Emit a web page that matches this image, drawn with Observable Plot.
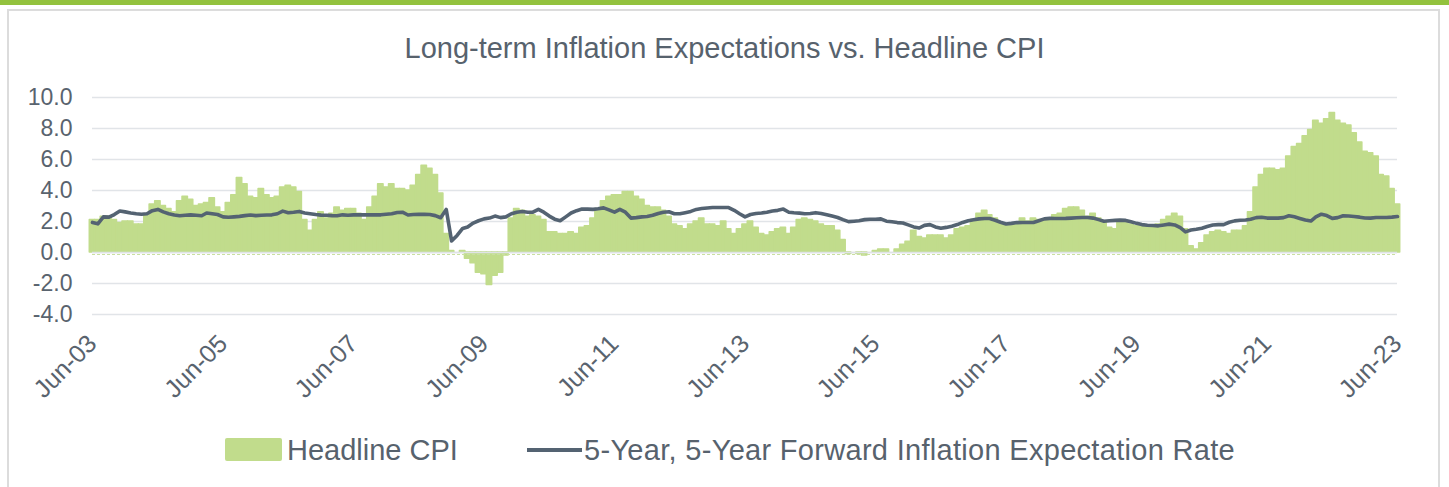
<!DOCTYPE html>
<html>
<head>
<meta charset="utf-8">
<script src="https://cdn.jsdelivr.net/npm/d3@7"></script>
<script src="https://cdn.jsdelivr.net/npm/@observablehq/plot@0.6"></script>
<style>
  html, body { margin: 0; padding: 0; background: #ffffff; }
  #wrap { position: relative; width: 1449px; height: 487px; overflow: hidden; font-family: "Liberation Sans", Arial, sans-serif; }
  #topbar { position: absolute; left: 0; top: 0; width: 1449px; height: 5px; background: #93c23e; }
  #card { position: absolute; left: 7px; top: 9px; width: 1433px; height: 520px; border: 2px solid #dcdcdc; border-bottom: none; box-sizing: border-box; }
  #title { position: absolute; left: 0; top: 34px; width: 1449px; text-align: center; font-size: 29px; line-height: 29px; color: #57626d; white-space: nowrap; }
  #chart { position: absolute; left: 0; top: 0; }
  .lg { position: absolute; font-size: 29px; line-height: 29px; color: #57626d; white-space: nowrap; }
  #sw1 { position: absolute; left: 225px; top: 438px; width: 57px; height: 23px; background: #c1dc8c; border-radius: 2px; }
  #sw2 { position: absolute; left: 527px; top: 448px; width: 55px; height: 4px; background: #546372; }
</style>
</head>
<body>
<div id="wrap">
  <div id="topbar"></div>
  <div id="card"></div>
  <div id="title">Long-term Inflation Expectations vs. Headline CPI</div>
  <div id="chart"></div>
  <div id="sw1"></div>
  <div class="lg" style="left:287px; top:436px;">Headline CPI</div>
  <div id="sw2"></div>
  <div class="lg" style="left:584px; top:436px; letter-spacing:0.3px;">5-Year, 5-Year Forward Inflation Expectation Rate</div>
</div>
<script>
// Monthly observations, Jun-2003 .. Jun-2023
const startMonth = "2003-06-01";

// Headline CPI, year-over-year %
const headlineCPI = [
  2.1, 2.1, 2.3, 2.3, 2.1, 1.9, 2.0,
  2.0, 1.8, 1.8, 2.4, 3.1, 3.3, 3.0, 2.8, 2.6, 3.3, 3.6, 3.4,
  3.0, 3.1, 3.2, 3.5, 2.9, 2.6, 3.2, 3.7, 4.8, 4.4, 3.6, 3.5,
  4.1, 3.7, 3.5, 3.6, 4.2, 4.3, 4.2, 3.9, 2.1, 1.4, 2.1, 2.6,
  2.2, 2.5, 2.9, 2.7, 2.8, 2.8, 2.5, 2.1, 2.9, 3.6, 4.4, 4.2,
  4.4, 4.1, 4.1, 4.0, 4.3, 5.0, 5.6, 5.4, 5.0, 3.8, 1.2, 0.1,
  0.0, 0.1, -0.4, -0.7, -1.3, -1.4, -2.1, -1.5, -1.3, -0.2, 2.2, 2.8,
  2.7, 2.3, 2.4, 2.3, 2.1, 1.3, 1.3, 1.2, 1.2, 1.3, 1.2, 1.6,
  1.7, 2.2, 2.8, 3.3, 3.6, 3.7, 3.7, 3.9, 3.9, 3.6, 3.4, 3.0,
  2.9, 2.9, 2.7, 2.3, 1.8, 1.7, 1.5, 1.8, 2.0, 2.2, 1.8, 1.8,
  1.7, 2.0, 1.5, 1.2, 1.5, 1.8, 2.0, 1.6, 1.2, 1.1, 1.3, 1.5,
  1.6, 1.2, 1.6, 2.1, 2.2, 2.1, 2.0, 1.8, 1.7, 1.7, 1.4, 0.8,
  -0.1, 0.0, -0.1, -0.2, 0.0, 0.1, 0.2, 0.2, 0.0, 0.2, 0.5, 0.7,
  1.4, 1.0, 0.9, 1.1, 1.1, 1.1, 0.9, 1.1, 1.5, 1.6, 1.7, 2.1,
  2.5, 2.7, 2.4, 2.2, 1.9, 1.7, 1.7, 1.9, 2.2, 2.0, 2.2, 2.1,
  2.1, 2.2, 2.4, 2.5, 2.8, 2.9, 2.9, 2.7, 2.3, 2.5, 2.2, 1.9,
  1.6, 1.5, 1.9, 2.0, 1.8, 1.7, 1.8, 1.7, 1.7, 1.8, 2.1, 2.3,
  2.5, 2.3, 1.5, 0.4, 0.2, 0.6, 1.1, 1.3, 1.4, 1.3, 1.2, 1.4,
  1.4, 1.7, 2.6, 4.2, 5.0, 5.4, 5.4, 5.3, 5.4, 6.2, 6.8, 7.0,
  7.5, 7.9, 8.5, 8.3, 8.6, 9.0, 8.5, 8.3, 8.2, 7.7, 7.1, 6.5,
  6.4, 6.2, 5.0, 4.9, 4.1, 3.1
];

// 5-Year, 5-Year Forward Inflation Expectation Rate, %
const forwardRate = [
  1.94, 1.85, 2.30, 2.28, 2.45, 2.68, 2.62,
  2.55, 2.50, 2.47, 2.50, 2.70, 2.78, 2.62, 2.50, 2.42, 2.37, 2.40, 2.43,
  2.40, 2.37, 2.55, 2.50, 2.45, 2.30, 2.27, 2.30, 2.33, 2.38, 2.42, 2.38,
  2.40, 2.42, 2.43, 2.50, 2.67, 2.56, 2.60, 2.65, 2.55, 2.50, 2.45, 2.41,
  2.40, 2.38, 2.37, 2.43, 2.40, 2.43, 2.43, 2.43, 2.43, 2.44, 2.43, 2.47,
  2.50, 2.58, 2.60, 2.42, 2.45, 2.47, 2.46, 2.45, 2.38, 2.24, 2.78, 0.75,
  1.10, 1.55, 1.65, 1.90, 2.05, 2.17, 2.22, 2.35, 2.25, 2.30, 2.50, 2.60,
  2.65, 2.60, 2.60, 2.78, 2.60, 2.35, 2.15, 2.05, 2.30, 2.55, 2.70, 2.80,
  2.80, 2.78, 2.82, 2.88, 2.75, 2.60, 2.78, 2.60, 2.22, 2.25, 2.30, 2.32,
  2.40, 2.52, 2.60, 2.63, 2.50, 2.50, 2.57, 2.65, 2.78, 2.84, 2.87, 2.90,
  2.90, 2.90, 2.90, 2.72, 2.50, 2.30, 2.45, 2.52, 2.55, 2.60, 2.68, 2.72,
  2.80, 2.60, 2.56, 2.54, 2.50, 2.52, 2.57, 2.52, 2.44, 2.35, 2.26, 2.12,
  1.99, 2.02, 2.05, 2.12, 2.15, 2.15, 2.17, 2.02, 1.98, 1.93, 1.90, 1.78,
  1.65, 1.58, 1.75, 1.80, 1.65, 1.56, 1.62, 1.70, 1.80, 1.94, 2.05, 2.11,
  2.17, 2.19, 2.19, 2.08, 1.95, 1.84, 1.88, 1.93, 1.94, 1.94, 1.94, 2.05,
  2.17, 2.20, 2.19, 2.19, 2.20, 2.22, 2.24, 2.26, 2.26, 2.22, 2.12, 2.02,
  2.05, 2.07, 2.09, 2.07, 1.98, 1.88, 1.80, 1.76, 1.74, 1.72, 1.78, 1.83,
  1.78, 1.60, 1.33, 1.45, 1.50, 1.57, 1.68, 1.77, 1.80, 1.80, 1.95, 2.04,
  2.08, 2.10, 2.15, 2.25, 2.27, 2.22, 2.22, 2.22, 2.25, 2.37, 2.30, 2.20,
  2.10, 2.03, 2.30, 2.47, 2.38, 2.20, 2.25, 2.37, 2.35, 2.32, 2.28, 2.23,
  2.22, 2.26, 2.26, 2.26, 2.28, 2.32
];

const yTicks = [-4, -2, 0, 2, 4, 6, 8, 10];
const xTickDates = ["2003-06-01","2005-06-01","2007-06-01","2009-06-01","2011-06-01","2013-06-01","2015-06-01","2017-06-01","2019-06-01","2021-06-01","2023-06-01"];
const xTickLabels = ["Jun-03","Jun-05","Jun-07","Jun-09","Jun-11","Jun-13","Jun-15","Jun-17","Jun-19","Jun-21","Jun-23"];

const start = new Date(startMonth + "T00:00:00Z");
const rows = headlineCPI.map((v, i) => {
  const date = d3.utcMonth.offset(start, i);
  return {date, cpi: v, fwd: forwardRate[i]};
});
const halfMonth = 15.22 * 24 * 3600 * 1000;
const tickDates = xTickDates.map(s => new Date(s + "T00:00:00Z"));
const labelFor = d => { const k = tickDates.findIndex(t => +t === +d); return k >= 0 ? xTickLabels[k] : ""; };

const green = "#c1dc8c";
const slate = "#546372";
const txt = "#59636e";

const chart = Plot.plot({
  width: 1449,
  height: 487,
  marginLeft: 92,
  marginRight: 52,
  marginTop: 97,
  marginBottom: 173,
  style: {fontFamily: "'Liberation Sans', Arial, sans-serif", fontSize: "23px", background: "transparent", overflow: "visible", color: txt},
  x: {type: "utc", domain: [tickDates[0], tickDates[tickDates.length - 1]]},
  y: {domain: [-4, 10]},
  marks: [
    Plot.ruleY(yTicks, {stroke: "#e1e4e8", strokeWidth: 1.6}),
    Plot.rectY(rows, {
      x1: d => new Date(+d.date - halfMonth),
      x2: d => new Date(+d.date + halfMonth),
      y: "cpi",
      fill: green,
      stroke: green,
      strokeWidth: 1.5,
      strokeLinejoin: "round"
    }),
    Plot.ruleY([0], {stroke: "#dfe3e6", strokeWidth: 1.6}),
    Plot.ruleY([0], {stroke: "#c9e0a0", strokeWidth: 1, strokeDasharray: "3 2", dy: 2}),
    Plot.line(rows, {x: "date", y: "fwd", stroke: slate, strokeWidth: 3.6, strokeLinejoin: "round"}),
    Plot.axisY({ticks: yTicks, tickSize: 0, tickPadding: 20, tickFormat: d => d.toFixed(1), label: null, fill: txt, fontSize: 23}),
    Plot.axisX({ticks: tickDates, tickFormat: labelFor, tickRotate: -45, tickSize: 0, tickPadding: 3, dx: 0, dy: 22, label: null, fill: txt, fontSize: 25})
  ]
});
document.getElementById("chart").appendChild(chart);
</script>
</body>
</html>
